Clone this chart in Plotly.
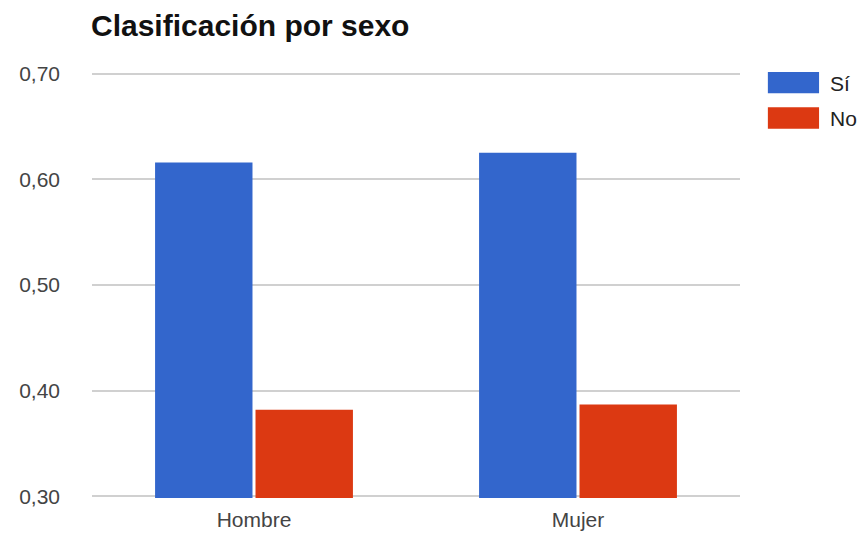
import plotly.graph_objects as go

# data
categorias = ['Hombre', 'Mujer']
valores_si = [0.616, 0.625]
valores_no = [0.382, 0.387]
series = ['Sí', 'No']
colores = ['#3366CC', '#DC3912']
y_ticks = [0.30, 0.40, 0.50, 0.60, 0.70]

FONT = 'Arial, Liberation Sans, sans-serif'

fig = go.Figure()
fig.add_trace(go.Bar(x=categorias, y=valores_si, name=series[0],
                     marker=dict(color=colores[0], line=dict(width=0))))
fig.add_trace(go.Bar(x=categorias, y=valores_no, name=series[1],
                     marker=dict(color=colores[1], line=dict(width=0))))

# legend drawn by hand so the swatches look like the original wide boxes
leg_y = [(1.0, 0.950, 0.974), (0.917, 0.867, 0.891)]
for (y1, y0, ym), nombre, color in zip(leg_y, series, colores):
    fig.add_shape(type='rect', xref='paper', yref='paper',
                  x0=1.043, x1=1.122, y0=y0, y1=y1,
                  fillcolor=color, line=dict(width=0))
    fig.add_annotation(xref='paper', yref='paper', x=1.136, y=ym,
                       text=nombre, showarrow=False, xanchor='left', yanchor='middle',
                       font=dict(family=FONT, size=21, color='#222222'))

fig.update_layout(
    width=865, height=535,
    margin=dict(l=92, r=125, t=72, b=37),
    paper_bgcolor='white', plot_bgcolor='white',
    barmode='group', bargap=0.38, bargroupgap=0.03,
    showlegend=False,
    separators=',.',
    font=dict(family=FONT, size=21, color='#444444'),
    title=dict(text='<b>Clasificación por sexo</b>', x=91 / 865, xanchor='left',
               y=1 - 25 / 535, yanchor='middle', xref='container', yref='container',
               font=dict(family=FONT, size=30, color='#111111')),
)
fig.update_xaxes(showgrid=False, showline=False, ticks='', ticklabelstandoff=7,
                 automargin=False, tickfont=dict(size=21, color='#444444'))
# range padded a hair so the top and bottom gridlines are still drawn
fig.update_yaxes(range=[0.2985, 0.7015], tickvals=y_ticks, tickformat='.2f',
                 showgrid=True, gridcolor='#d0d0d0', gridwidth=1.5,
                 zeroline=False, showline=False, ticks='', ticklabelstandoff=31,
                 automargin=False, tickfont=dict(size=21, color='#444444'))

fig.write_html('out.html', config={'displayModeBar': False},
               post_script="document.body.style.margin='0';")
